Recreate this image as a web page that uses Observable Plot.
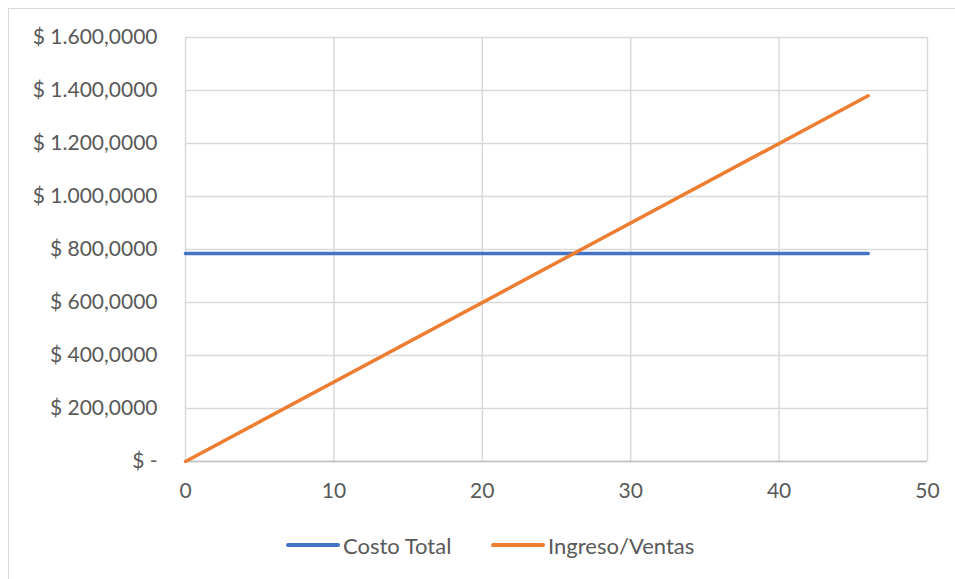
<!DOCTYPE html>
<html>
<head>
<meta charset="utf-8">
<script src="https://cdn.jsdelivr.net/npm/d3@7"></script>
<script src="https://cdn.jsdelivr.net/npm/@observablehq/plot@0.6"></script>
<style>
  html, body { margin: 0; padding: 0; background: #fff; }
  #wrap { position: relative; width: 955px; height: 579px; overflow: hidden; font-family: Lato, "Open Sans", sans-serif; }
  #frame { position: absolute; left: 8px; top: 8px; width: 1000px; height: 700px; border-left: 1.5px solid #d9d9d9; border-top: 1.5px solid #d9d9d9; }
  #chart { position: absolute; left: 0; top: 0; }
  #legend { position: absolute; left: 0; top: 530px; width: 955px; height: 30px; }
  .item { position: absolute; top: 0; display: flex; align-items: center; height: 30px; font-size: 22px; color: #595959; }
  .swatch { display: inline-block; width: 54px; height: 3.5px; border-radius: 2px; margin-right: 3px; }
</style>
</head>
<body>
<div id="wrap">
  <div id="frame"></div>
  <div id="chart"></div>
  <div id="legend"></div>
</div>
<script>
const unidades = [0, 46];
const costoTotal = [785, 785];
const ingresoVentas = [0, 1380];
const seriesNames = ["Costo Total", "Ingreso/Ventas"];
const seriesColors = ["#4472c4", "#ed7d31"];
const xTicks = [0, 10, 20, 30, 40, 50];
const yTicks = [0, 200, 400, 600, 800, 1000, 1200, 1400, 1600];

const rows = [];
unidades.forEach((u, i) => {
  rows.push({x: u, y: costoTotal[i], s: seriesNames[0]});
});
unidades.forEach((u, i) => {
  rows.push({x: u, y: ingresoVentas[i], s: seriesNames[1]});
});

const fmtY = v => v === 0 ? "$ -" : "$ " + d3.format(",")(v).replace(/,/g, ".") + ",0000";

const plot = Plot.plot({
  width: 955,
  height: 579,
  marginLeft: 185,
  marginRight: 28,
  marginTop: 37,
  marginBottom: 118,
  style: { fontFamily: "Lato, 'Open Sans', sans-serif", fontSize: "21px", color: "#595959", background: "transparent", overflow: "visible" },
  x: { domain: [0, 50], ticks: xTicks, tickSize: 0, tickPadding: 22, tickFormat: d => String(d), label: null },
  y: { domain: [0, 1600], ticks: yTicks, tickSize: 0, tickPadding: 28, tickFormat: fmtY, label: null },
  color: { domain: seriesNames, range: seriesColors },
  marks: [
    Plot.gridX(xTicks, { stroke: "#d9d9d9", strokeOpacity: 1, strokeWidth: 1.5 }),
    Plot.gridY(yTicks, { stroke: "#d9d9d9", strokeOpacity: 1, strokeWidth: 1.5 }),
    Plot.ruleY([0], { stroke: "#bfbfbf", strokeWidth: 1.5 }),
    Plot.axisX({ ticks: xTicks, tickSize: 0, tickPadding: 22, tickFormat: d => String(d), fill: "#595959", fontSize: 21 }),
    Plot.axisY({ ticks: yTicks, tickSize: 0, tickPadding: 28, tickFormat: fmtY, fill: "#595959", fontSize: 21 }),
    Plot.line(rows, { x: "x", y: "y", z: "s", stroke: "s", strokeWidth: 3.5, strokeLinecap: "round" })
  ]
});
document.getElementById("chart").appendChild(plot);

const legend = document.getElementById("legend");
const lefts = [286, 491];
seriesNames.forEach((n, i) => {
  const it = document.createElement("div");
  it.className = "item";
  it.style.left = lefts[i] + "px";
  const sw = document.createElement("span");
  sw.className = "swatch";
  sw.style.background = seriesColors[i];
  it.appendChild(sw);
  it.appendChild(document.createTextNode(n));
  legend.appendChild(it);
});
</script>
</body>
</html>
